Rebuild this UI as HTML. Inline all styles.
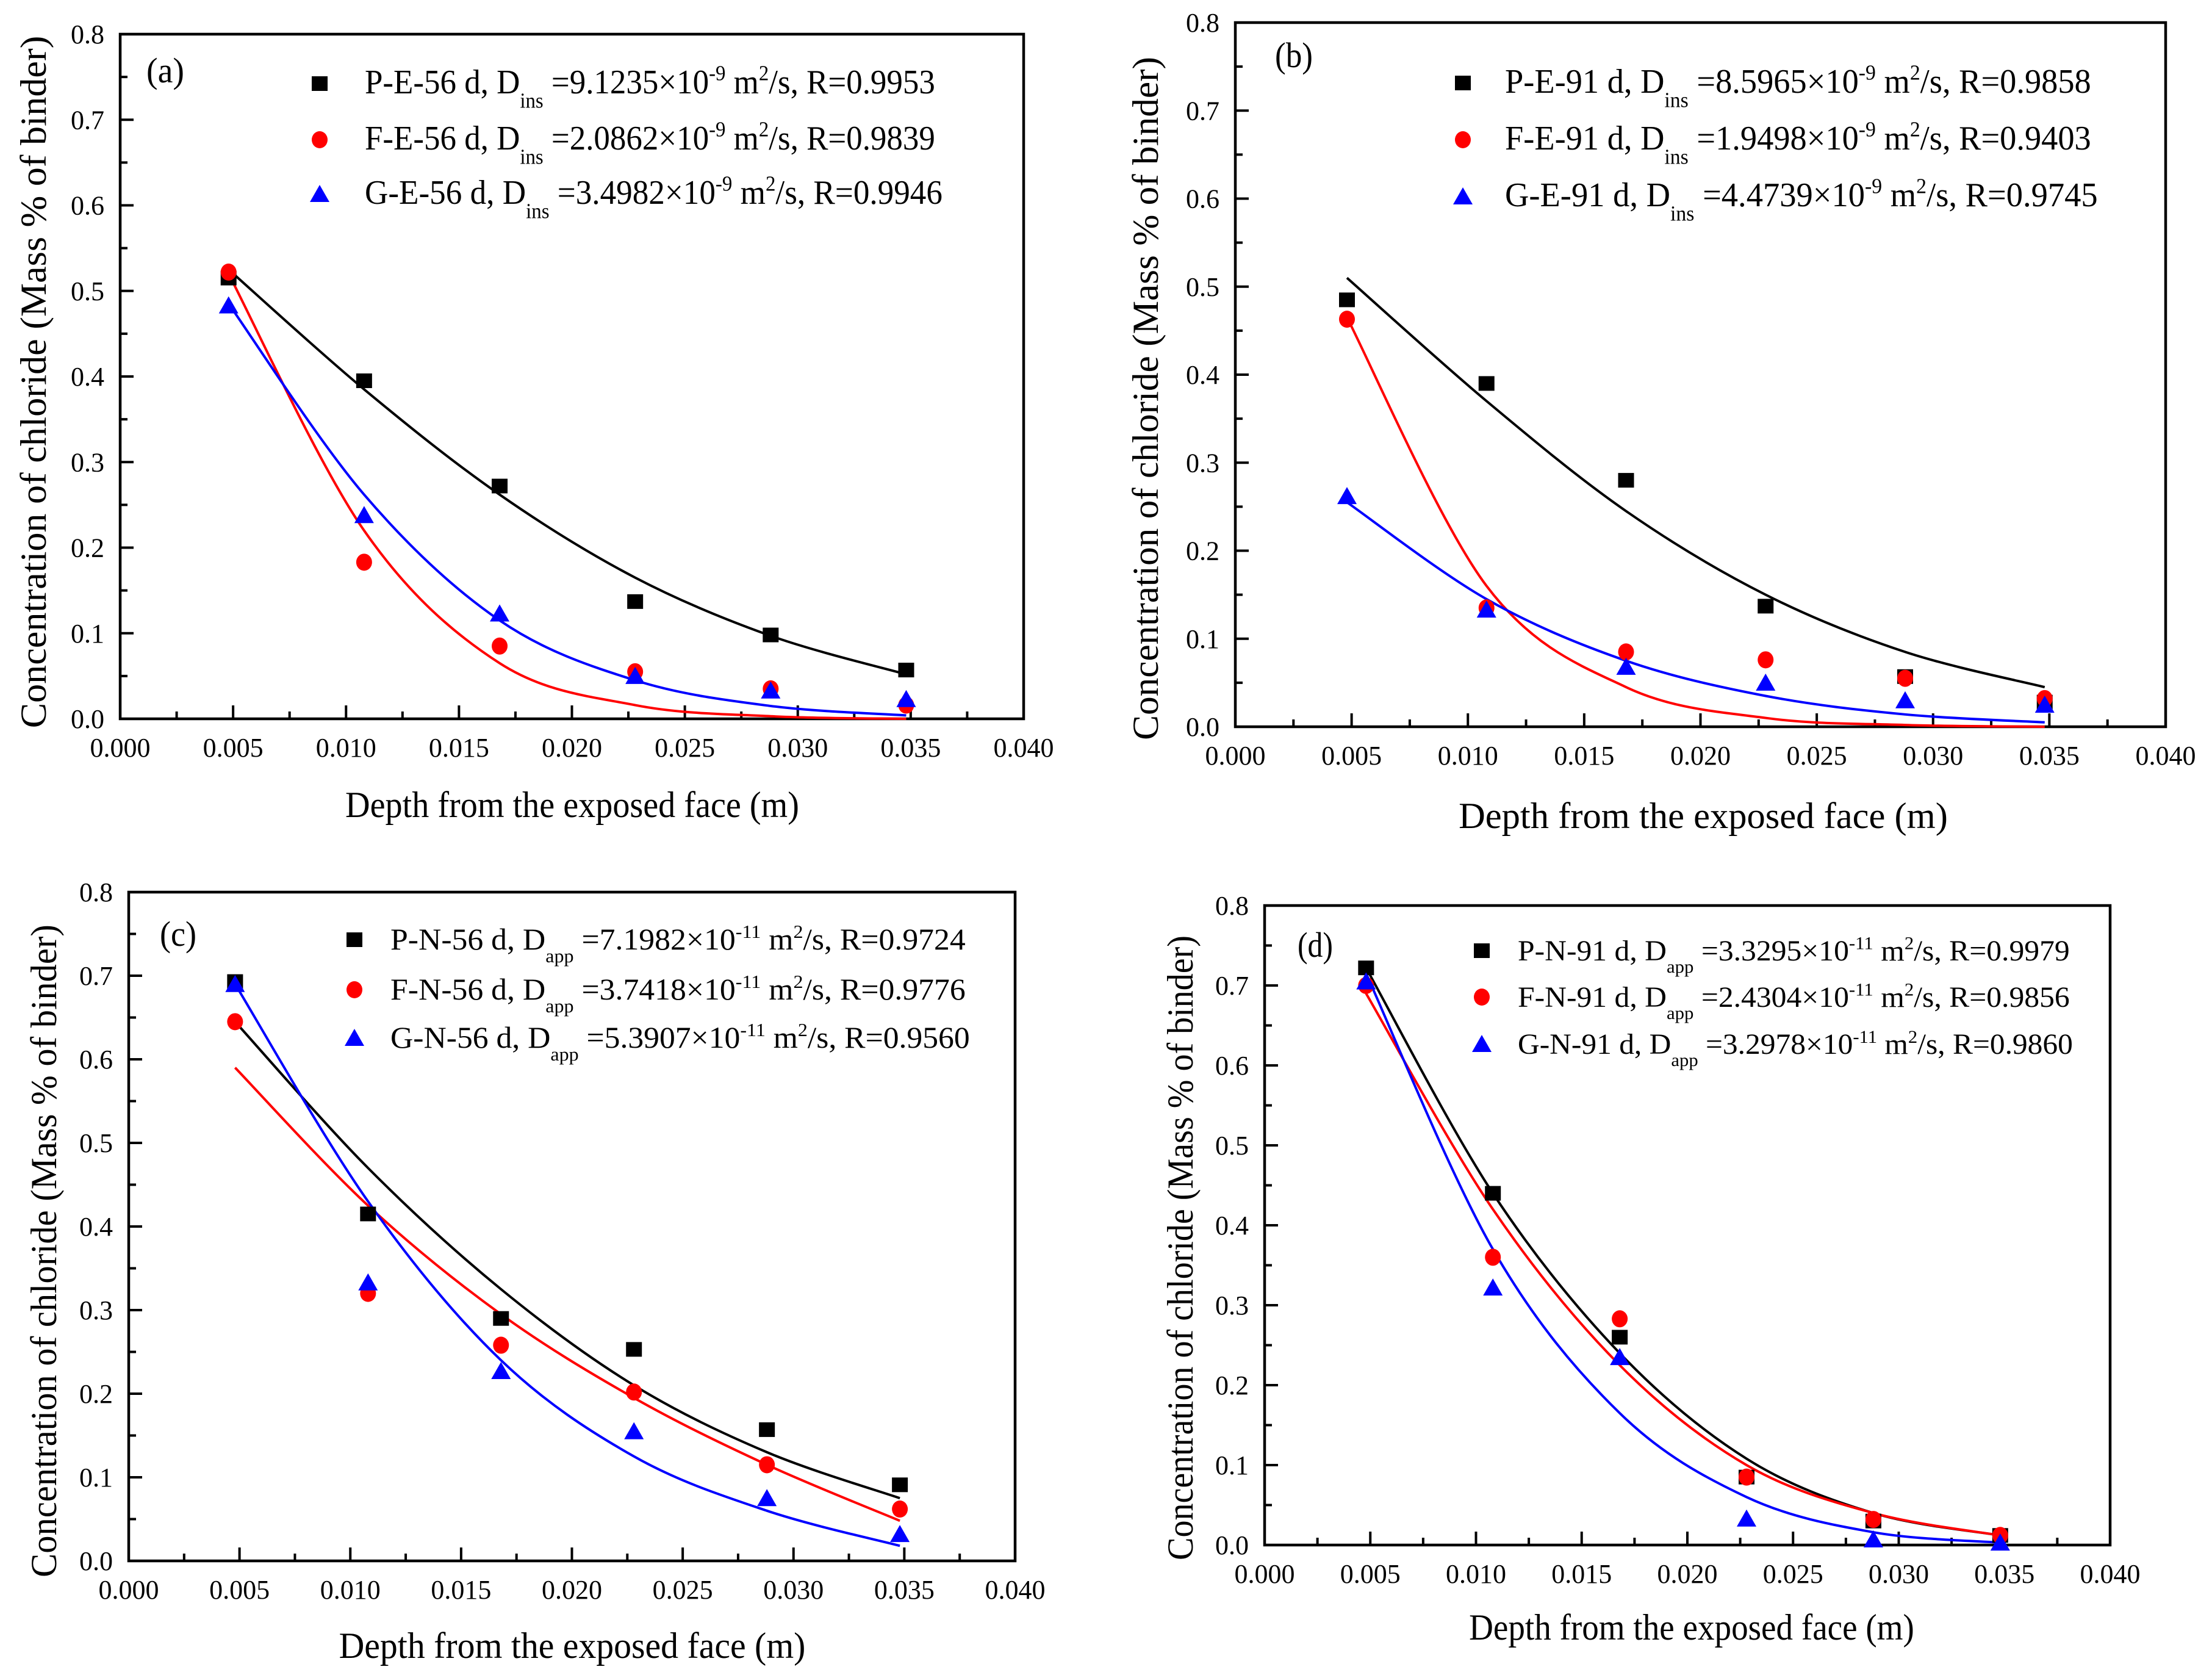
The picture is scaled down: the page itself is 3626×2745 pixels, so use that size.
<!DOCTYPE html>
<html><head><meta charset="utf-8">
<style>
html,body{margin:0;padding:0;background:#fff;}
svg{display:block;font-family:"Liberation Serif","DejaVu Serif",serif;}
</style></head>
<body>
<svg id="fig" width="3626" height="2745" viewBox="0 0 3626 2745" xmlns="http://www.w3.org/2000/svg">
<rect width="3626" height="2745" fill="#fff"/>
</svg>
<script>
const NS='http://www.w3.org/2000/svg';
const svg=document.getElementById('fig');

// ---- data (shared depths) ----
const depths=[0.0048,0.0108,0.0168,0.0228,0.0288,0.0348];
const xTicks=['0.000','0.005','0.010','0.015','0.020','0.025','0.030','0.035','0.040'];
const yTicks=['0.0','0.1','0.2','0.3','0.4','0.5','0.6','0.7','0.8'];

// panel a
const aP=[0.515,0.395,0.272,0.137,0.098,0.057];
const aF=[0.522,0.183,0.085,0.055,0.035,0.016];
const aG=[0.483,0.238,0.123,0.050,0.033,0.023];
const aPfit=[0.525,0.385,0.262,0.165,0.097,0.052];
const aFfit=[0.520,0.220,0.065,0.016,0.003,0.000];
const aGfit=[0.485,0.262,0.115,0.045,0.015,0.004];
// panel b
const bP=[0.485,0.390,0.280,0.137,0.057,0.028];
const bF=[0.463,0.135,0.085,0.076,0.055,0.032];
const bG=[0.262,0.133,0.068,0.050,0.030,0.025];
const bPfit=[0.510,0.370,0.245,0.150,0.085,0.045];
const bFfit=[0.465,0.160,0.045,0.010,0.002,0.000];
const bGfit=[0.255,0.145,0.075,0.035,0.014,0.005];
// panel c
const cP=[0.693,0.415,0.290,0.253,0.157,0.091];
const cF=[0.645,0.320,0.258,0.202,0.115,0.062];
const cG=[0.690,0.333,0.227,0.155,0.075,0.032];
const cPfit=[0.645,0.470,0.325,0.210,0.130,0.075];
const cFfit=[0.590,0.425,0.295,0.195,0.115,0.048];
const cGfit=[0.690,0.430,0.240,0.125,0.060,0.018];
// panel d
const dP=[0.722,0.440,0.260,0.085,0.030,0.012];
const dF=[0.700,0.360,0.283,0.085,0.032,0.012];
const dG=[0.705,0.322,0.235,0.033,0.007,0.003];
const dPfit=[0.722,0.440,0.240,0.108,0.040,0.012];
const dFfit=[0.690,0.420,0.225,0.100,0.040,0.012];
const dGfit=[0.715,0.370,0.165,0.060,0.016,0.003];

const legA=[['P-E-56 d, D','ins','=9.1235×10','-9','2','R=0.9953'],['F-E-56 d, D','ins','=2.0862×10','-9','2','R=0.9839'],['G-E-56 d, D','ins','=3.4982×10','-9','2','R=0.9946']];
const legB=[['P-E-91 d, D','ins','=8.5965×10','-9','2','R=0.9858'],['F-E-91 d, D','ins','=1.9498×10','-9','2','R=0.9403'],['G-E-91 d, D','ins','=4.4739×10','-9','2','R=0.9745']];
const legC=[['P-N-56 d, D','app','=7.1982×10','-11','2','R=0.9724'],['F-N-56 d, D','app','=3.7418×10','-11','2','R=0.9776'],['G-N-56 d, D','app','=5.3907×10','-11','2','R=0.9560']];
const legD=[['P-N-91 d, D','app','=3.3295×10','-11','2','R=0.9979'],['F-N-91 d, D','app','=2.4304×10','-11','2','R=0.9856'],['G-N-91 d, D','app','=3.2978×10','-11','2','R=0.9860']];

function el(tag,attrs,parent){const e=document.createElementNS(NS,tag);for(const k in attrs)e.setAttribute(k,attrs[k]);(parent||svg).appendChild(e);return e;}
function fitW(t,w,anchorX){const bw=t.getComputedTextLength?t.getComputedTextLength():t.getBBox().width;if(bw>0){const s=w/bw;t.setAttribute('transform',`translate(${anchorX},0) scale(${s},1) translate(${-anchorX},0)`);}}

function panel(cfg){
  const g=el('g',{});
  
  
  const X=v=>cfg.L+(v/0.04)*(cfg.R-cfg.L);
  const Y=v=>cfg.B-(v/0.8)*(cfg.B-cfg.T);
  // ticks
  for(let i=0;i<=16;i++){const v=i*0.0025;const x=X(v);const len=i%2?12:22;
    const t=el('line',{x1:x,y1:cfg.B,x2:x,y2:cfg.B-len,stroke:'#000','stroke-width':4},g);
    }
  for(let i=0;i<=16;i++){const v=i*0.05;const y=Y(v);const len=i%2?12:22;
    const t=el('line',{x1:cfg.L,y1:y,x2:cfg.L+len,y2:y,stroke:'#000','stroke-width':4},g);
    }
  xTicks.forEach((s,i)=>{const t=el('text',{x:X(i*0.005),y:cfg.B+62,'font-size':44,'text-anchor':'middle'},g);t.textContent=s;
    });
  yTicks.forEach((s,i)=>{const t=el('text',{x:cfg.L-26,y:Y(i*0.1)+15,'font-size':44,'text-anchor':'end'},g);t.textContent=s;
    });
  // frame
  const fr=el('rect',{x:cfg.L,y:cfg.T,width:cfg.R-cfg.L,height:cfg.B-cfg.T,fill:'none',stroke:'#000','stroke-width':4.5},g);
  
  // curves
  const colors=['#000','#f00','#00f'];
  const names=['P','F','G'];
  cfg.fits.forEach((arr,k)=>{
    const pts=depths.map((d,i)=>[X(d),Y(arr[i])]);
    let dstr=`M${pts[0][0]},${pts[0][1]}`;
    for(let i=0;i<pts.length-1;i++){const p0=pts[Math.max(0,i-1)],p1=pts[i],p2=pts[i+1],p3=pts[Math.min(pts.length-1,i+2)];
      const c1=[p1[0]+(p2[0]-p0[0])/6,p1[1]+(p2[1]-p0[1])/6],c2=[p2[0]-(p3[0]-p1[0])/6,p2[1]-(p3[1]-p1[1])/6];
      dstr+=` C${c1[0]},${c1[1]} ${c2[0]},${c2[1]} ${p2[0]},${p2[1]}`;}
    const p=el('path',{d:dstr,fill:'none',stroke:colors[k],'stroke-width':4},g);
    
  });
  function marker(k,x,y,parent){
    let m;
    if(k===0)m=el('rect',{x:x-13,y:y-12,width:26,height:24,fill:'#000'},parent);
    else if(k===1)m=el('ellipse',{cx:x,cy:y,rx:13,ry:14,fill:'#f00'},parent);
    else m=el('polygon',{points:`${x},${y-15} ${x+16},${y+13} ${x-16},${y+13}`,fill:'#00f'},parent);
    return m;
  }
  cfg.data.forEach((arr,k)=>{arr.forEach((v,i)=>{const m=marker(k,X(depths[i]),Y(v),g);
    });});
  // legend
  cfg.leg.forEach((r,k)=>{
    const by=cfg.legY[k];
    const m=marker(k,cfg.mx,by-16,g);
    
    const fs=cfg.lfs;
    const t=el('text',{x:cfg.tx,y:by,'font-size':fs},g);
    
    const parts=[[r[0],0,1],[r[1],fs*0.42,0.62],[' '+r[2],-fs*0.42,1],[r[3],-fs*0.38,0.62],[' m',fs*0.38,1],[r[4],-fs*0.38,0.62],['/s, '+r[5],fs*0.38,1]];
    parts.forEach(p=>{const s=el('tspan',{dy:p[1],'font-size':fs*p[2]},t);s.textContent=p[0];});
    fitW(t,cfg.tw[k],cfg.tx);
  });
  const pl=el('text',{x:cfg.lbl[0],y:cfg.lbl[1],'font-size':58},g);pl.textContent='('+cfg.id+')';
  
  fitW(pl,cfg.lbl[2],cfg.lbl[0]);
  const xt=el('text',{x:cfg.xt[0],y:cfg.xt[1],'font-size':60,'text-anchor':'middle'},g);xt.textContent='Depth from the exposed face (m)';
  
  fitW(xt,cfg.xt[2],cfg.xt[0]);
  const yg=el('g',{transform:`translate(${cfg.yt[0]},${cfg.yt[1]}) rotate(-90)`},g);
  const yt=el('text',{x:0,y:0,'font-size':60,'text-anchor':'middle'},yg);yt.textContent='Concentration of chloride (Mass % of binder)';
  
  fitW(yt,cfg.yt[2],0);
}

panel({id:'a',L:197,R:1678,T:56,B:1178,data:[aP,aF,aG],fits:[aPfit,aFfit,aGfit],leg:legA,
  mx:524,tx:598,legY:[153,245,334],lfs:56,tw:[935,935,947],lbl:[240,135,62],xt:[938,1339,744],yt:[75,626,1135]});
panel({id:'b',L:2025,R:3550,T:37,B:1191,data:[bP,bF,bG],fits:[bPfit,bFfit,bGfit],leg:legB,
  mx:2398,tx:2467,legY:[152,245,338],lfs:56,tw:[961,961,972],lbl:[2090,110,62],xt:[2792,1357,802],yt:[1898,653,1120]});
panel({id:'c',L:211,R:1664,T:1462,B:2558,data:[cP,cF,cG],fits:[cPfit,cFfit,cGfit],leg:legC,
  mx:581,tx:640,legY:[1556,1638,1717],lfs:50,tw:[943,943,950],lbl:[262,1550,60],xt:[938,2717,765],yt:[92,2050,1070]});
panel({id:'d',L:2073,R:3459,T:1484,B:2532,data:[dP,dF,dG],fits:[dPfit,dFfit,dGfit],leg:legD,
  mx:2429,tx:2488,legY:[1574,1650,1727],lfs:48,tw:[905,905,910],lbl:[2127,1568,58],xt:[2773,2687,730],yt:[1955,2045,1024]});
</script>
</body></html>
